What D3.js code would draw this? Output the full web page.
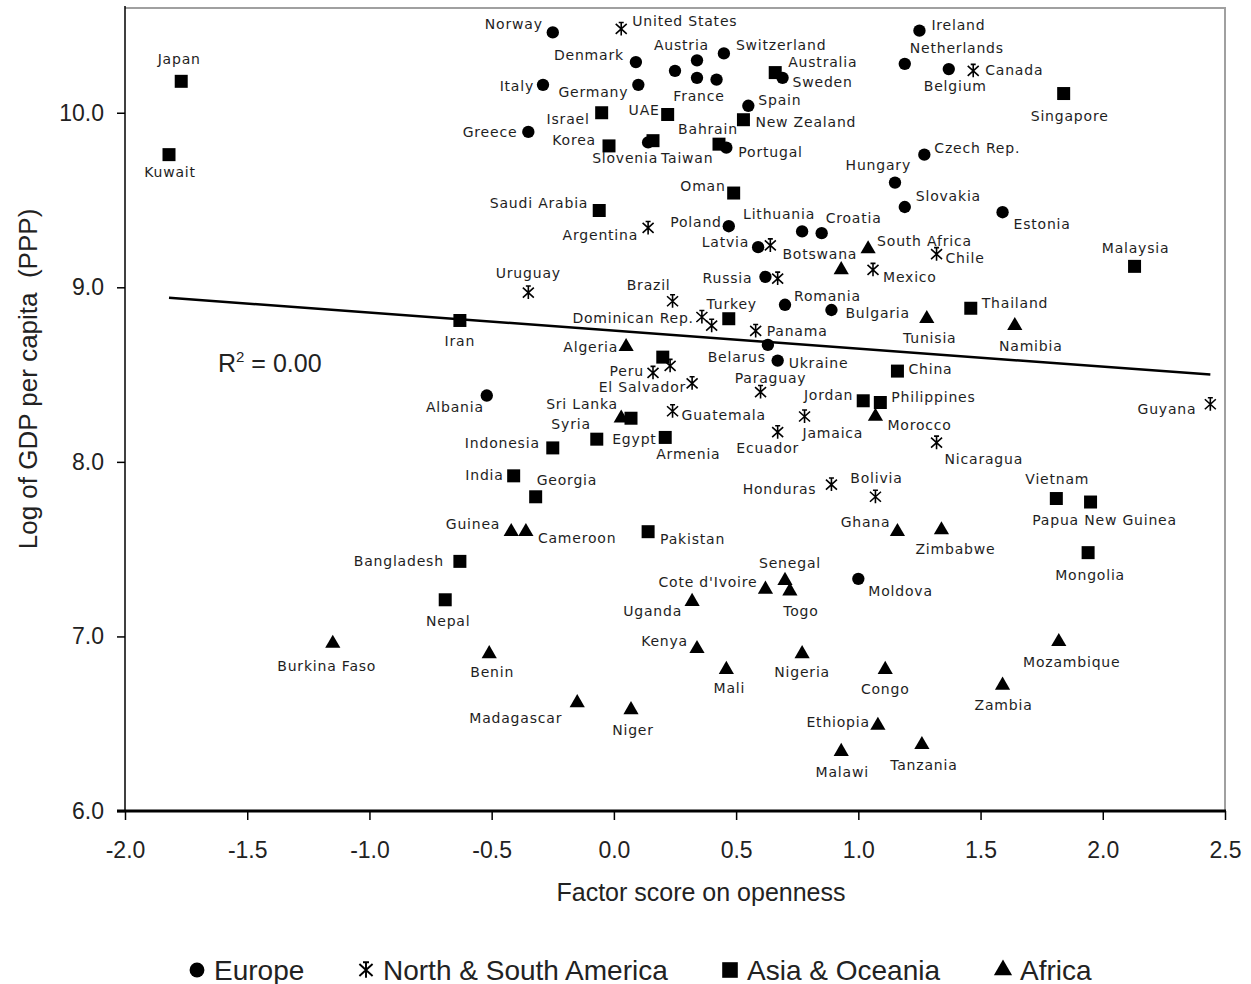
<!DOCTYPE html>
<html>
<head>
<meta charset="utf-8">
<script src="https://cdn.jsdelivr.net/npm/d3@7/dist/d3.min.js"></script>
<style>
  html, body { margin: 0; padding: 0; background: #fff; }
  svg { display: block; }
  .country { font-family: "DejaVu Sans", Verdana, sans-serif; font-size: 14px; fill: #1e1e1e; letter-spacing: 0.8px; }
  .tick text { font-family: "Liberation Sans", Arial, sans-serif; font-size: 23px; fill: #222; }
  .title { font-family: "Liberation Sans", Arial, sans-serif; fill: #222; }
</style>
</head>
<body>
<svg id="chart" width="1251" height="984"></svg>
<script>
// Openness factor score (x) vs. log GDP per capita, PPP (y), by region.
// Entries with an empty name are plotted without a label.
const europe = [
  ["Norway", -0.25, 10.46], ["Denmark", 0.09, 10.29], ["Italy", -0.29, 10.16],
  ["Germany", 0.10, 10.16], ["Greece", -0.35, 9.89], ["Austria", 0.34, 10.30],
  ["Switzerland", 0.45, 10.34], ["France", 0.34, 10.20], ["", 0.25, 10.24],
  ["", 0.42, 10.19], ["Sweden", 0.69, 10.20], ["Spain", 0.55, 10.04],
  ["Slovenia", 0.14, 9.83], ["Portugal", 0.46, 9.80], ["Ireland", 1.25, 10.47],
  ["Netherlands", 1.19, 10.28], ["Belgium", 1.37, 10.25], ["Czech Rep.", 1.27, 9.76],
  ["Hungary", 1.15, 9.60], ["Slovakia", 1.19, 9.46], ["Estonia", 1.59, 9.43],
  ["Poland", 0.47, 9.35], ["Lithuania", 0.77, 9.32], ["Croatia", 0.85, 9.31],
  ["Latvia", 0.59, 9.23], ["Russia", 0.62, 9.06], ["Romania", 0.70, 8.90],
  ["Bulgaria", 0.89, 8.87], ["Belarus", 0.63, 8.67], ["Ukraine", 0.67, 8.58],
  ["Albania", -0.52, 8.38], ["Moldova", 1.00, 7.33]
];
const americas = [
  ["United States", 0.03, 10.48], ["Canada", 1.47, 10.24], ["Argentina", 0.14, 9.34],
  ["", 0.64, 9.24], ["Mexico", 1.06, 9.10], ["Chile", 1.32, 9.19],
  ["Uruguay", -0.35, 8.97], ["Brazil", 0.24, 8.92], ["", 0.67, 9.05],
  ["Dominican Rep.", 0.36, 8.83], ["", 0.40, 8.78], ["Panama", 0.58, 8.75],
  ["Peru", 0.16, 8.51], ["", 0.23, 8.55], ["El Salvador", 0.32, 8.45],
  ["Paraguay", 0.60, 8.40], ["Guatemala", 0.24, 8.29], ["Jamaica", 0.78, 8.26],
  ["Ecuador", 0.67, 8.17], ["Honduras", 0.89, 7.87], ["Bolivia", 1.07, 7.80],
  ["Nicaragua", 1.32, 8.11], ["Guyana", 2.44, 8.33]
];
const asiaOceania = [
  ["Japan", -1.77, 10.18], ["Kuwait", -1.82, 9.76], ["Israel", -0.05, 10.00],
  ["UAE", 0.22, 9.99], ["Korea", -0.02, 9.81], ["Taiwan", 0.16, 9.84],
  ["Bahrain", 0.43, 9.82], ["New Zealand", 0.53, 9.96], ["Australia", 0.66, 10.23],
  ["Singapore", 1.84, 10.11], ["Oman", 0.49, 9.54], ["Saudi Arabia", -0.06, 9.44],
  ["Malaysia", 2.13, 9.12], ["Iran", -0.63, 8.81], ["Turkey", 0.47, 8.82],
  ["", 0.20, 8.60], ["China", 1.16, 8.52], ["Thailand", 1.46, 8.88],
  ["Jordan", 1.02, 8.35], ["Philippines", 1.09, 8.34], ["Sri Lanka", 0.07, 8.25],
  ["Syria", -0.07, 8.13], ["Armenia", 0.21, 8.14], ["Indonesia", -0.25, 8.08],
  ["India", -0.41, 7.92], ["Georgia", -0.32, 7.80], ["Pakistan", 0.14, 7.60],
  ["Bangladesh", -0.63, 7.43], ["Nepal", -0.69, 7.21], ["Vietnam", 1.81, 7.79],
  ["Papua New Guinea", 1.95, 7.77], ["Mongolia", 1.94, 7.48]
];
const africa = [
  ["South Africa", 1.04, 9.22], ["Botswana", 0.93, 9.10], ["Tunisia", 1.28, 8.82],
  ["Namibia", 1.64, 8.78], ["Algeria", 0.05, 8.66], ["Morocco", 1.07, 8.26],
  ["Egypt", 0.03, 8.25], ["Guinea", -0.42, 7.60], ["Cameroon", -0.36, 7.60],
  ["Ghana", 1.16, 7.60], ["Zimbabwe", 1.34, 7.61], ["Senegal", 0.70, 7.32],
  ["Togo", 0.72, 7.26], ["Cote d'Ivoire", 0.62, 7.27], ["Uganda", 0.32, 7.20],
  ["Kenya", 0.34, 6.93], ["Mali", 0.46, 6.81], ["Nigeria", 0.77, 6.90],
  ["Congo", 1.11, 6.81], ["Ethiopia", 1.08, 6.49], ["Malawi", 0.93, 6.34],
  ["Tanzania", 1.26, 6.38], ["Madagascar", -0.15, 6.62], ["Niger", 0.07, 6.58],
  ["Burkina Faso", -1.15, 6.96], ["Benin", -0.51, 6.90], ["Mozambique", 1.82, 6.97],
  ["Zambia", 1.59, 6.72]
];

const regionNames = ["Europe", "North & South America", "Asia & Oceania", "Africa"];
const xTicks = [-2.0, -1.5, -1.0, -0.5, 0.0, 0.5, 1.0, 1.5, 2.0, 2.5];
const yTicks = [6.0, 7.0, 8.0, 9.0, 10.0];
// Fitted trend line, drawn between the extreme x values.
const trendLine = [[-1.82, 8.94], [2.44, 8.50]];
const rSquared = "0.00";

// Label placement around each marker: [anchor, dx, dy]
const labelPlacement = {
  "Norway": ["e", -10, -8], "Denmark": ["e", -12, -7], "Italy": ["e", -9, 1],
  "Germany": ["e", -10, 7], "Greece": ["e", -11, 0], "Austria": ["e", 12, -15],
  "Switzerland": ["s", 12, -8], "France": ["m", 2, 18], "Sweden": ["s", 10, 4],
  "Spain": ["s", 10, -6], "Slovenia": ["e", 10, 16], "Portugal": ["s", 12, 4],
  "Ireland": ["s", 12, -6], "Netherlands": ["s", 5, -16], "Belgium": ["s", -25, 17],
  "Czech Rep.": ["s", 10, -7], "Hungary": ["e", 16, -18], "Slovakia": ["s", 11, -11],
  "Estonia": ["s", 11, 12], "Poland": ["e", -7, -4], "Lithuania": ["e", 13, -17],
  "Croatia": ["s", 4, -15], "Latvia": ["e", -9, -5], "Russia": ["e", -13, 1],
  "Romania": ["s", 9, -9], "Bulgaria": ["s", 14, 3], "Belarus": ["e", -2, 12],
  "Ukraine": ["s", 11, 2], "Albania": ["e", -3, 11], "Moldova": ["s", 10, 12],
  "United States": ["s", 11, -8], "Canada": ["s", 12, -1], "Argentina": ["e", -10, 7],
  "Mexico": ["s", 10, 7], "Chile": ["s", 9, 4], "Uruguay": ["m", 0, -20],
  "Brazil": ["e", -2, -16], "Dominican Rep.": ["e", -8, 1], "Panama": ["s", 11, 0],
  "Peru": ["e", -9, -2], "El Salvador": ["e", -6, 4], "Paraguay": ["m", 10, -14],
  "Guatemala": ["s", 9, 4], "Jamaica": ["s", -2, 17], "Ecuador": ["m", -10, 16],
  "Honduras": ["e", -15, 4], "Bolivia": ["m", 1, -19], "Nicaragua": ["s", 8, 16],
  "Guyana": ["e", -14, 5],
  "Japan": ["m", -2, -22], "Kuwait": ["m", 1, 17], "Israel": ["e", -12, 6],
  "UAE": ["e", -8, -4], "Korea": ["e", -13, -6], "Taiwan": ["s", 8, 17],
  "Bahrain": ["m", -11, -15], "New Zealand": ["s", 12, 2], "Australia": ["s", 13, -11],
  "Singapore": ["m", 6, 22], "Oman": ["e", -8, -7], "Saudi Arabia": ["e", -11, -7],
  "Malaysia": ["m", 1, -18], "Iran": ["m", 0, 21], "Turkey": ["m", 3, -15],
  "China": ["s", 11, -2], "Thailand": ["s", 11, -5], "Jordan": ["e", -10, -6],
  "Philippines": ["s", 11, -6], "Sri Lanka": ["e", -13, -14], "Syria": ["e", -6, -15],
  "Armenia": ["s", -9, 17], "Indonesia": ["e", -13, -5], "India": ["e", -10, -1],
  "Georgia": ["s", 1, -17], "Pakistan": ["s", 12, 7], "Bangladesh": ["e", -16, 0],
  "Nepal": ["m", 3, 21], "Vietnam": ["m", 1, -20], "Papua New Guinea": ["m", 14, 18],
  "Mongolia": ["m", 2, 22],
  "South Africa": ["s", 9, -8], "Botswana": ["e", 16, -16], "Tunisia": ["m", 3, 19],
  "Namibia": ["m", 16, 20], "Algeria": ["e", -8, 0], "Morocco": ["s", 12, 9],
  "Egypt": ["s", -9, 21], "Guinea": ["e", -11, -8], "Cameroon": ["s", 12, 6],
  "Ghana": ["e", -7, -10], "Zimbabwe": ["m", 14, 19], "Senegal": ["m", 5, -18],
  "Togo": ["m", 11, 20], "Cote d'Ivoire": ["e", -8, -7], "Uganda": ["e", -10, 9],
  "Kenya": ["e", -9, -8], "Mali": ["m", 3, 18], "Nigeria": ["m", 0, 18],
  "Congo": ["m", 0, 19], "Ethiopia": ["e", -8, -3], "Malawi": ["m", 1, 20],
  "Tanzania": ["m", 2, 20], "Madagascar": ["e", -15, 15], "Niger": ["m", 2, 20],
  "Burkina Faso": ["m", -6, 23], "Benin": ["m", 3, 18], "Mozambique": ["m", 13, 20],
  "Zambia": ["m", 1, 20]
};

const svg = d3.select("#chart");
const plotLeft = 125, plotRight = 1225, plotTop = 8, plotBottom = 811;

const x = d3.scaleLinear().domain([-2, 2.5]).range([plotLeft, plotRight]);
const y = d3.scaleLinear().domain([6, 10.6]).range([plotBottom, plotTop]);

svg.append("rect").attr("width", 1251).attr("height", 984).attr("fill", "#fff");

// Plot frame (top and right sides)
svg.append("path")
  .attr("d", `M${plotLeft},${plotTop}H${plotRight}V${plotBottom}`)
  .attr("fill", "none").attr("stroke", "#a0a0a0").attr("stroke-width", 2);

// Axes
const yAxis = d3.axisLeft(y).tickValues(yTicks).tickSize(8).tickPadding(13)
  .tickFormat(d => d.toFixed(1));
const gy = svg.append("g").attr("transform", `translate(${plotLeft},0)`).call(yAxis);
gy.select(".domain").remove();
gy.selectAll(".tick line").attr("stroke", "#000").attr("stroke-width", 1.5);
svg.append("line").attr("x1", plotLeft).attr("x2", plotLeft).attr("y1", plotTop - 2).attr("y2", plotBottom)
  .attr("stroke", "#000").attr("stroke-width", 1.5);

const xAxis = d3.axisBottom(x).tickValues(xTicks).tickSize(9).tickPadding(22)
  .tickFormat(d => d.toFixed(1));
const gx = svg.append("g").attr("transform", `translate(0,${plotBottom})`).call(xAxis);
gx.select(".domain").remove();
gx.selectAll(".tick line").attr("stroke", "#000").attr("stroke-width", 1.5);
svg.append("line").attr("x1", plotLeft - 8).attr("x2", plotRight + 1).attr("y1", plotBottom).attr("y2", plotBottom)
  .attr("stroke", "#000").attr("stroke-width", 3);

// Axis titles
svg.append("text").attr("class", "title")
  .attr("x", (plotLeft + plotRight) / 2 + 26).attr("y", 892)
  .attr("text-anchor", "middle").attr("dominant-baseline", "central")
  .attr("font-size", 25).text("Factor score on openness");
svg.append("text").attr("class", "title")
  .attr("transform", "translate(28,379) rotate(-90)")
  .attr("text-anchor", "middle").attr("dominant-baseline", "central")
  .attr("font-size", 26).style("white-space", "pre")
  .text("Log of GDP per capita  (PPP)");

// Trend line
svg.append("path")
  .datum(trendLine)
  .attr("d", d3.line().x(d => x(d[0])).y(d => y(d[1])))
  .attr("fill", "none").attr("stroke", "#000").attr("stroke-width", 2.5);

const r2 = svg.append("text").attr("class", "title")
  .attr("x", 218).attr("y", 372).attr("font-size", 25);
r2.append("tspan").text("R");
r2.append("tspan").attr("font-size", 15).attr("dy", -10).text("2");
r2.append("tspan").attr("dy", 10).text(" = " + rSquared);

// Marker shapes
const asteriskPath = "M0,-6.5V6.5M-5.5,-5L5.5,5M-5.5,5L5.5,-5M-2.5,-6.5H2.5";
function drawMarker(g, kind, scale) {
  const s = scale || 1;
  if (kind === 0) {
    g.append("path").attr("d", d3.symbol(d3.symbolCircle, 120 * s * s)()).attr("fill", "#000");
  } else if (kind === 1) {
    g.append("path").attr("d", asteriskPath).attr("fill", "none")
      .attr("stroke", "#000").attr("stroke-width", 1.6)
      .attr("transform", `scale(${s})`);
  } else if (kind === 2) {
    g.append("path").attr("d", d3.symbol(d3.symbolSquare, 169 * s * s)()).attr("fill", "#000");
  } else {
    g.append("path").attr("d", d3.symbol(d3.symbolTriangle, 100 * s * s)()).attr("fill", "#000");
  }
}

const regions = [europe, americas, asiaOceania, africa];
const markers = svg.append("g");
const labels = svg.append("g");
const anchorMap = { s: "start", m: "middle", e: "end" };

regions.forEach((rows, k) => {
  rows.forEach(([name, vx, vy]) => {
    const px = x(vx), py = y(vy);
    const g = markers.append("g").attr("transform", `translate(${px},${py})`);
    drawMarker(g, k, 1);
    if (name) {
      const p = labelPlacement[name] || ["s", 10, 0];
      labels.append("text").attr("class", "country")
        .attr("x", px + p[1]).attr("y", py + p[2])
        .attr("text-anchor", anchorMap[p[0]])
        .attr("dominant-baseline", "central")
        .text(name);
    }
  });
});

// Legend
const legendX = [197, 366, 730, 1003];
regionNames.forEach((nm, k) => {
  const g = svg.append("g").attr("transform", `translate(${legendX[k]},970)`);
  drawMarker(g, k, 1.2);
  svg.append("text").attr("class", "title")
    .attr("x", legendX[k] + 17).attr("y", 970)
    .attr("dominant-baseline", "central").attr("font-size", 28)
    .text(nm);
});
</script>
</body>
</html>
